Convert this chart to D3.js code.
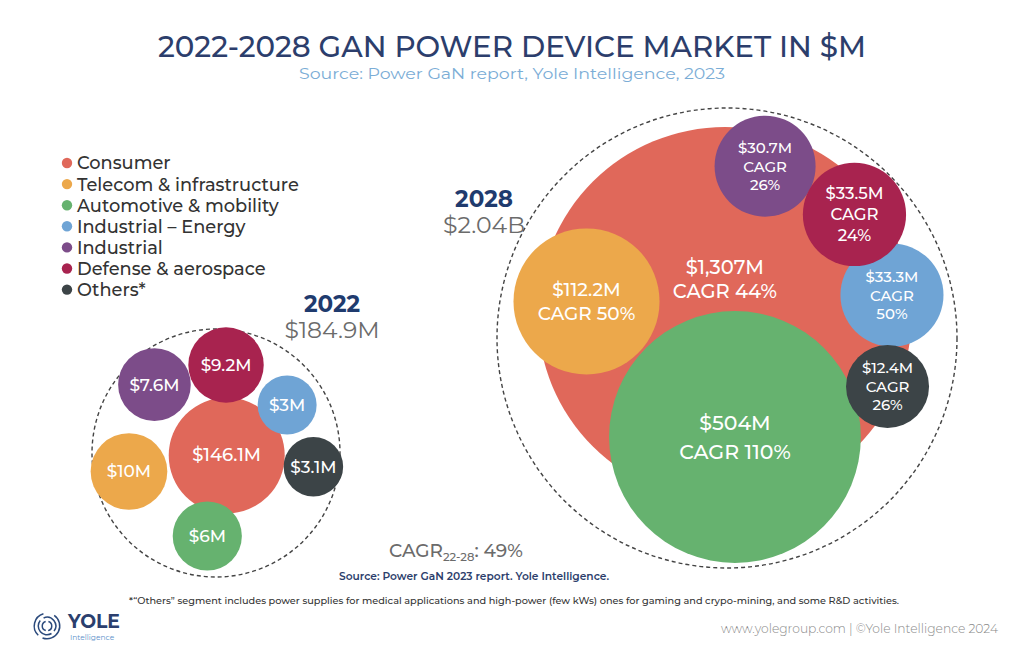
<!DOCTYPE html>
<html>
<head>
<meta charset="utf-8">
<script src="https://cdn.jsdelivr.net/npm/d3@7"></script>
<style>
  body { margin: 0; background: #fff; }
  svg { display: block; }
  text { font-family: "Montserrat", "Noto Sans", sans-serif; }
</style>
</head>
<body>
<div id="chart"></div>
<script>
// --- data -------------------------------------------------------------
const categories = ["Consumer", "Telecom & infrastructure", "Automotive & mobility",
    "Industrial \u2013 Energy", "Industrial", "Defense & aerospace", "Others*"];
const categoryColors = ["#e0685a", "#eca84b", "#66b26f", "#6fa4d5", "#7c4c89", "#a8234f", "#3c4447"];
const values2022 = [146.1, 10, 6, 3, 7.6, 9.2, 3.1];
const values2028 = [1307, 112.2, 504, 33.3, 30.7, 33.5, 12.4];
const cagr2028 = [44, 50, 110, 50, 26, 24, 26];
const years = ["2022", "2028"];
const yearTotals = ["$184.9M", "$2.04B"];
const cagrTotal = 49;

// --- layout (hand placed like the original, circles sit on the dashed rim) ---
const width = 1024, height = 662;
const clusters = [
    {
        year: years[0], total: yearTotals[0], values: values2022,
        cx: 216, cy: 453, R: 124,
        rScale: d3.scaleLog().domain(d3.extent(values2022)).range([29.5, 58]),
        angle: [13, 168, 96, -34, -132, -83.5, 8],
        inset: [55, -3.3, 6, 8.7, -4.3, -2.3, -4.1],
        order: [0, 1, 2, 3, 4, 5, 6],
        labelX: 332, labelY: 312, totalW: 95
    },
    {
        year: years[1], total: yearTotals[1], values: values2028,
        cx: 727, cy: 338, R: 230,
        rScale: d3.scaleSqrt().domain(d3.extent(values2028)).range([41.5, 187]),
        angle: [-95, -165.4, 85.4, -14.6, -77.5, -44.1, 16.8],
        inset: [19, 11.8, 4.8, 8, 3.5, 0.9, 20.8],
        order: [0, 2, 1, 3, 6, 4, 5],
        labelX: 484, labelY: 207, totalW: 82,
        cagr: cagr2028
    }
];

const money = v => "$" + d3.format(",")(v) + "M";

const svg = d3.select("#chart").append("svg")
    .attr("width", width)
    .attr("height", height);

// title
svg.append("text")
    .attr("x", width / 2).attr("y", 57)
    .attr("text-anchor", "middle")
    .attr("font-size", 29).attr("font-weight", 500)
    .attr("fill", "#2c3e6c")
    .attr("textLength", 708).attr("lengthAdjust", "spacingAndGlyphs")
    .text("2022-2028 GAN POWER DEVICE MARKET IN $M");
svg.append("text")
    .attr("x", width / 2).attr("y", 79)
    .attr("text-anchor", "middle")
    .attr("font-size", 15.5)
    .attr("fill", "#7badd6")
    .attr("textLength", 426).attr("lengthAdjust", "spacingAndGlyphs")
    .text("Source: Power GaN report, Yole Intelligence, 2023");

// legend
const legend = svg.append("g").attr("transform", "translate(67,163)");
categories.forEach((c, i) => {
    let row = legend.append("g").attr("transform", "translate(0," + i * 21.1 + ")");
    row.append("circle").attr("r", 5.2).attr("fill", categoryColors[i]);
    row.append("text")
        .attr("x", 10).attr("dy", "0.36em")
        .attr("font-size", 17.8).attr("font-weight", 500)
        .attr("fill", "#333")
        .text(c);
});

// clusters
clusters.forEach(cl => {
    let g = svg.append("g");

    g.append("circle")
        .attr("cx", cl.cx).attr("cy", cl.cy).attr("r", cl.R)
        .attr("fill", "none")
        .attr("stroke", "#444")
        .attr("stroke-width", 1.4)
        .attr("stroke-dasharray", "4,3");

    let nodes = cl.order.map(i => {
        let r = cl.rScale(cl.values[i]);
        let a = cl.angle[i] * Math.PI / 180;
        let d = cl.R - r - cl.inset[i];
        return {i: i, r: r, x: cl.cx + d * Math.cos(a), y: cl.cy + d * Math.sin(a), v: cl.values[i]};
    });

    g.selectAll("circle.bubble")
        .data(nodes)
        .join("circle")
        .attr("class", "bubble")
        .attr("cx", d => d.x).attr("cy", d => d.y).attr("r", d => d.r)
        .attr("fill", d => categoryColors[d.i]);

    nodes.forEach(d => {
        let lines, size, gap, dy = 0;
        if (!cl.cagr) {
            lines = [money(d.v)];
            size = d.i === 0 ? 18 : 17;
            gap = 0;
        } else if (d.r > 70) {
            lines = [money(d.v), "CAGR " + cl.cagr[d.i] + "%"];
            size = d.i === 2 ? 20.5 : (d.i === 0 ? 19.5 : 18.5);
            gap = d.i === 2 ? 29 : 23.5;
            if (d.i === 0) dy = -35; // green bubble hides the lower half
        } else {
            lines = [money(d.v), "CAGR", cl.cagr[d.i] + "%"];
            size = d.i === 5 ? 16.5 : 15;
            gap = d.i === 5 ? 21 : 18.5;
        }
        lines.forEach((t, k) => {
            g.append("text")
                .attr("x", d.x)
                .attr("y", d.y + dy - (lines.length - 1) * gap / 2 + k * gap)
                .attr("text-anchor", "middle")
                .attr("dominant-baseline", "central")
                .attr("font-size", size)
                .attr("font-weight", 500)
                .attr("fill", "#fff")
                .text(t);
        });
    });

    g.append("text")
        .attr("x", cl.labelX).attr("y", cl.labelY)
        .attr("text-anchor", "middle")
        .attr("font-size", 23).attr("font-weight", 700)
        .attr("fill", "#1f3b6e")
        .text(cl.year);
    g.append("text")
        .attr("x", cl.labelX).attr("y", cl.labelY + 26)
        .attr("text-anchor", "middle")
        .attr("font-size", 22)
        .attr("fill", "#6b6b6b")
        .attr("textLength", cl.totalW).attr("lengthAdjust", "spacingAndGlyphs")
        .text(cl.total);
});

// CAGR 22-28
let cagrText = svg.append("text")
    .attr("x", 389).attr("y", 557)
    .attr("font-size", 18.5).attr("font-weight", 500)
    .attr("fill", "#6b6b6b");
cagrText.append("tspan").text("CAGR");
cagrText.append("tspan").attr("font-size", 11.5).attr("dy", 4).text("22-28");
cagrText.append("tspan").attr("dy", -4).text(": " + cagrTotal + "%");

svg.append("text")
    .attr("x", 474).attr("y", 580)
    .attr("text-anchor", "middle")
    .attr("font-size", 11).attr("font-weight", 600)
    .attr("fill", "#2c3e6c")
    .attr("textLength", 270).attr("lengthAdjust", "spacingAndGlyphs")
    .text("Source: Power GaN 2023 report. Yole Intelligence.");

svg.append("text")
    .attr("x", 514).attr("y", 604)
    .attr("text-anchor", "middle")
    .attr("font-size", 10).attr("font-weight", 500)
    .attr("fill", "#333")
    .attr("textLength", 770).attr("lengthAdjust", "spacingAndGlyphs")
    .text("*\u201cOthers\u201d segment includes power supplies for medical applications and high-power (few kWs) ones for gaming and crypo-mining, and some R&D activities.");

// footer logo
const logo = svg.append("g").attr("transform", "translate(47,626)");
const arc = d3.arc();
[[4, 5.5, 0.3, 2.9], [4, 5.5, 3.4, 6.0], [8, 9.5, -0.4, 2.2], [8, 9.5, 2.6, 5.4],
 [12, 13.5, 0.6, 3.5], [12, 13.5, 3.9, 6.0]].forEach(p => {
    logo.append("path")
        .attr("d", arc({innerRadius: p[0], outerRadius: p[1], startAngle: p[2], endAngle: p[3]}))
        .attr("fill", "#2b4a7c");
});
svg.append("text")
    .attr("x", 68).attr("y", 628)
    .attr("font-size", 19).attr("font-weight", 700)
    .attr("fill", "#2b3f6e")
    .attr("textLength", 52).attr("lengthAdjust", "spacingAndGlyphs")
    .text("YOLE");
svg.append("text")
    .attr("x", 70).attr("y", 640)
    .attr("font-size", 7.5)
    .attr("fill", "#5b8fca")
    .text("Intelligence");

svg.append("text")
    .attr("x", 998).attr("y", 633)
    .attr("text-anchor", "end")
    .attr("font-size", 13).attr("font-weight", 300)
    .attr("fill", "#8a8a8a")
    .attr("textLength", 277).attr("lengthAdjust", "spacingAndGlyphs")
    .text("www.yolegroup.com | \u00a9Yole Intelligence 2024");
</script>
</body>
</html>
